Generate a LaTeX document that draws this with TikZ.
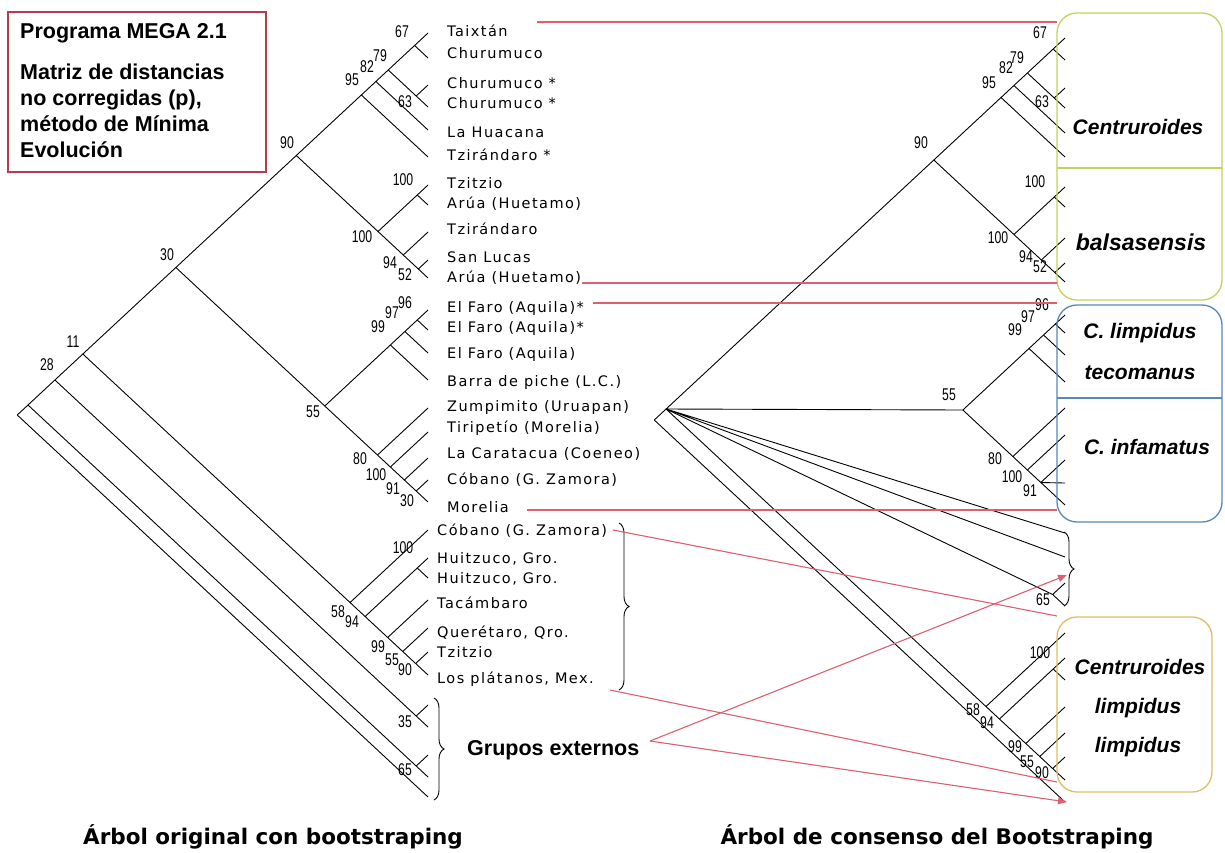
\documentclass[tikz,border=0pt]{standalone}
\usepackage{fontspec}
\setmainfont{Liberation Sans}
\newfontfamily\taxfont[LetterSpace=10]{DejaVu Sans}
\newfontfamily\bsfont[FakeStretch=0.72]{Liberation Sans}
\newfontfamily\ttlfont{DejaVu Sans}
\usetikzlibrary{arrows.meta,decorations.pathreplacing}
\definecolor{redl}{RGB}{222,96,112}
\definecolor{megared}{RGB}{185,60,78}
\definecolor{ygreen}{RGB}{196,210,92}
\definecolor{bluebox}{RGB}{88,136,186}
\definecolor{goldbox}{RGB}{226,188,104}
\newcommand\clade[4]{\coordinate (#1) at ({#2-(#4-#3)/1.86},{(#3+#4)/2});}
\newcommand\br[3]{\draw[tree] (#1) -- (#2) (#1) -- (#3);}
\begin{document}
\begin{tikzpicture}[x=1pt,y=-1pt,
  tree/.style={line width=0.9pt,black},
  tax/.style={anchor=base west,inner sep=0pt,font=\taxfont\fontsize{14.5}{16}\selectfont},
  bs/.style={inner sep=0pt,font=\bsfont\fontsize{17}{17}\selectfont},
  boldtxt/.style={inner sep=0pt,font=\bfseries\fontsize{21.5}{26}\selectfont},
  ttl/.style={anchor=base,inner sep=0pt,font=\ttlfont\bfseries\fontsize{21.5}{24}\selectfont},
  sp/.style={inner sep=0pt,font=\bfseries\itshape\fontsize{21}{24}\selectfont},
  redline/.style={draw=redl,line width=1.1pt},
  redarrow/.style={redline,-{Triangle[length=9pt,width=7pt]}},
  grpbox/.style={line width=1.3pt,rounded corners=20pt},
  bracebr/.style={decorate,decoration={brace,amplitude=10pt},line width=0.9pt}]
\fill[white] (0,0) rectangle (1225,852);
\useasboundingbox (0,0) rectangle (1225,852);

% ---------- program box ----------
\draw[megared,line width=1.5pt] (8,12) rectangle (266,172);
\node[boldtxt,anchor=west] (prog) at (20,33) {Programa MEGA 2.1};
\node[boldtxt,anchor=north west,align=left] (desc) at (20,64) {Matriz de distancias\\no corregidas (p),\\método de Mínima\\Evolución};

% ---------- left tree ----------
\foreach \i/\y in {1/33,2/58,3/85,4/107,5/130,6/157,7/185,8/205,9/232,10/260,11/278,12/310,13/330,14/353,15/380,16/408,17/432,18/458,19/480,20/502,21/530,22/558,23/578,24/600,25/628,26/652,27/675,28/705,29/727,30/755,31/777,32/797}
  \coordinate (L\i) at (428,\y);
\clade{n67}{428}{33}{58}
\clade{n63}{428}{85}{107}
\clade{n79}{428}{33}{107}
\clade{n82}{428}{33}{130}
\clade{n95}{428}{33}{157}
\clade{nA}{428}{185}{205}
\clade{n52}{428}{260}{278}
\clade{n94}{428}{232}{278}
\clade{nB}{428}{185}{278}
\clade{n90}{428}{33}{278}
\clade{n96}{428}{310}{330}
\clade{n97}{428}{310}{353}
\clade{n99}{428}{310}{380}
\clade{n30b}{428}{480}{502}
\clade{n91}{428}{458}{502}
\clade{nC}{428}{432}{502}
\clade{n80}{428}{408}{502}
\clade{n55}{428}{310}{502}
\clade{n30}{428}{33}{502}
\clade{nD}{428}{558}{578}
\clade{n90b}{428}{652}{675}
\clade{n55b}{428}{628}{675}
\clade{n99b}{428}{600}{675}
\clade{n94b}{428}{558}{675}
\clade{n58}{428}{530}{675}
\clade{n11}{428}{33}{675}
\clade{n35}{428}{705}{727}
\clade{n28}{428}{33}{727}
\clade{n65}{428}{755}{777}
\clade{nX}{428}{33}{777}
\clade{root}{428}{33}{797}
\br{n67}{L1}{L2}
\br{n63}{L3}{L4}
\br{n79}{n67}{n63}
\br{n82}{n79}{L5}
\br{n95}{n82}{L6}
\br{nA}{L7}{L8}
\br{n52}{L10}{L11}
\br{n94}{L9}{n52}
\br{nB}{nA}{n94}
\br{n90}{n95}{nB}
\br{n96}{L12}{L13}
\br{n97}{n96}{L14}
\br{n99}{n97}{L15}
\br{n30b}{L19}{L20}
\br{n91}{L18}{n30b}
\br{nC}{L17}{n91}
\br{n80}{L16}{nC}
\br{n55}{n99}{n80}
\br{n30}{n90}{n55}
\br{nD}{L22}{L23}
\br{n90b}{L26}{L27}
\br{n55b}{L25}{n90b}
\br{n99b}{L24}{n55b}
\br{n94b}{nD}{n99b}
\br{n58}{L21}{n94b}
\br{n11}{n30}{n58}
\br{n35}{L28}{L29}
\br{n28}{n11}{n35}
\br{n65}{L30}{L31}
\br{nX}{n28}{n65}
\br{root}{nX}{L32}

\foreach \n/\x/\y/\t in {bl1/402/32/67,bl2/380/56/79,bl3/367/67/82,bl4/352/80/95,bl5/405/102/63,bl6/287/143/90,bl7/403/180/100,bl8/362/237/100,bl9/390/263/94,bl10/405/275/52,bl11/167/255/30,bl12/405/303/96,bl13/392/313/97,bl14/378/327/99,bl15/313/412/55,bl16/360/459/80,bl17/376/475/100,bl18/393/489/91,bl19/407/501/30,bl20/73/342/11,bl21/47/365/28,bl22/403/548/100,bl23/338/612/58,bl24/352/622/94,bl25/378/647/99,bl26/392/660/55,bl27/405/670/90,bl28/405/722/35,bl29/405/770/65}
  \node[bs] (\n) at (\x,\y) {\t};

% taxon labels
\node[tax] (t1) at (447,36) {Taixtán};
\node[tax] (t2) at (447,58) {Churumuco};
\node[tax] (t3) at (447,88) {Churumuco *};
\node[tax] (t4) at (447,108) {Churumuco *};
\node[tax] (t5) at (447,137) {La Huacana};
\node[tax] (t6) at (447,160) {Tzirándaro *};
\node[tax] (t7) at (447,188) {Tzitzio};
\node[tax] (t8) at (447,208) {Arúa (Huetamo)};
\node[tax] (t9) at (447,234) {Tzirándaro};
\node[tax] (t10) at (447,262) {San Lucas};
\node[tax] (t11) at (447,282) {Arúa (Huetamo)};
\node[tax] (t12) at (447,312) {El Faro (Aquila)*};
\node[tax] (t13) at (447,332) {El Faro (Aquila)*};
\node[tax] (t14) at (447,358) {El Faro (Aquila)};
\node[tax] (t15) at (447,386) {Barra de piche (L.C.)};
\node[tax] (t16) at (447,411) {Zumpimito (Uruapan)};
\node[tax] (t17) at (447,432) {Tiripetío (Morelia)};
\node[tax] (t18) at (447,458) {La Caratacua (Coeneo)};
\node[tax] (t19) at (447,484) {Cóbano (G. Zamora)};
\node[tax] (t20) at (447,512) {Morelia};
\node[tax] (t21) at (437,535) {Cóbano (G. Zamora)};
\node[tax] (t22) at (437,563) {Huitzuco, Gro.};
\node[tax] (t23) at (437,583) {Huitzuco, Gro.};
\node[tax] (t24) at (437,608) {Tacámbaro};
\node[tax] (t25) at (437,637) {Querétaro, Qro.};
\node[tax] (t26) at (437,657) {Tzitzio};
\node[tax] (t27) at (437,683) {Los plátanos, Mex.};

% braces
\coordinate (bA1) at (619,523); \coordinate (bA2) at (619,690);
\draw[bracebr] (bA1) -- (bA2);
\coordinate (bB1) at (434,698); \coordinate (bB2) at (434,800);
\draw[bracebr] (bB1) -- (bB2);
\node[boldtxt,anchor=west] (grp) at (467,750) {Grupos externos};

% ---------- right tree ----------
\foreach \i/\y in {1/38,2/60,3/88,4/108,5/133,6/157,7/187,8/207,9/238,10/263,11/282,12/315,13/333,14/355,15/382,16/408,17/435,18/460,19/483,20/505,21/533,22/557,23/583,24/606,25/633,26/658,27/680,28/707,29/733,30/757,31/780,32/802}
  \coordinate (R\i) at (1065,\y);
\clade{rn67}{1065}{38}{60}
\clade{rn63}{1065}{88}{108}
\clade{rn79}{1065}{38}{108}
\clade{rn82}{1065}{38}{133}
\clade{rn95}{1065}{38}{157}
\clade{rnA}{1065}{187}{207}
\clade{rn52}{1065}{263}{282}
\clade{rn94}{1065}{238}{282}
\clade{rnB}{1065}{187}{282}
\clade{rn90}{1065}{38}{282}
\clade{rn96}{1065}{315}{333}
\clade{rn97}{1065}{315}{355}
\clade{rn99}{1065}{315}{382}
\clade{rn91}{1065}{460}{505}
\clade{rnC}{1065}{435}{505}
\clade{rn80}{1065}{408}{505}
\clade{rn55}{1065}{315}{505}
\clade{rn65}{1065}{583}{606}
\clade{rnD}{1065}{658}{680}
\clade{rn90b}{1065}{757}{780}
\clade{rn55b}{1065}{733}{780}
\clade{rn99b}{1065}{707}{780}
\clade{rn94b}{1065}{658}{780}
\clade{rn58}{1065}{633}{780}
\clade{poly}{1065}{38}{780}
\clade{rroot}{1065}{38}{802}
\br{rn67}{R1}{R2}
\br{rn63}{R3}{R4}
\br{rn79}{rn67}{rn63}
\br{rn82}{rn79}{R5}
\br{rn95}{rn82}{R6}
\br{rnA}{R7}{R8}
\br{rn52}{R10}{R11}
\br{rn94}{R9}{rn52}
\br{rnB}{rnA}{rn94}
\br{rn90}{rn95}{rnB}
\br{rn96}{R12}{R13}
\br{rn97}{rn96}{R14}
\br{rn99}{rn97}{R15}
\br{rn91}{R18}{R20}
\draw[tree] (rn91) -- (R19);
\br{rnC}{R17}{rn91}
\br{rn80}{R16}{rnC}
\br{rn55}{rn99}{rn80}
\br{rn65}{R23}{R24}
\br{rnD}{R26}{R27}
\br{rn90b}{R30}{R31}
\br{rn55b}{R29}{rn90b}
\br{rn99b}{R28}{rn55b}
\br{rn94b}{rnD}{rn99b}
\br{rn58}{R25}{rn94b}
\br{poly}{rn90}{rn55}
\br{poly}{R21}{R22}
\br{poly}{rn65}{rn58}
\br{rroot}{poly}{R32}

\foreach \n/\x/\y/\t in {br1/1040/33/67,br2/1017/58/79,br3/1006/68/82,br4/989/83/95,br5/1042/102/63,br6/921/143/90,br7/1035/182/100,br8/998/238/100,br9/1026/257/94,br10/1040/267/52,br11/1042/305/96,br12/1028/317/97,br13/1015/330/99,br14/949/395/55,br15/995/459/80,br16/1012/477/100,br17/1030/491/91,br18/1043/600/65,br19/1040/653/100,br20/973/710/58,br21/987/723/94,br22/1015/747/99,br23/1027/762/55,br24/1042/773/90}
  \node[bs] (\n) at (\x,\y) {\t};

% right bracket
\coordinate (bC1) at (1064,532); \coordinate (bC2) at (1064,606);
\draw[bracebr] (bC1) -- (bC2);

% ---------- group boxes ----------
\draw[ygreen,grpbox] (1057,13) rectangle (1222,300);
\draw[ygreen,line width=1.3pt] (1057,168) -- (1222,168);
\draw[bluebox,grpbox] (1057,305) rectangle (1222,522);
\draw[bluebox,line width=1.3pt] (1057,398) -- (1222,398);
\draw[goldbox,grpbox] (1057,617) rectangle (1212,792);

\node[sp] (g1) at (1138,127) {Centruroides};
\node[sp,font=\bfseries\itshape\fontsize{23}{26}\selectfont] (g2) at (1141,242) {balsasensis};
\node[sp] (g3) at (1140,333) {C. limpidus};
\node[sp] (g4) at (1140,373) {tecomanus};
\node[sp] (g5) at (1147,447) {C. infamatus};
\node[sp] (g6) at (1140,667) {Centruroides};
\node[sp] (g7) at (1138,708) {limpidus};
\node[sp] (g8) at (1138,747) {limpidus};

% ---------- red connectors ----------
\coordinate (sTai) at (537,22);  \coordinate (eTai) at (1057,22);
\coordinate (sAru) at (582,283); \coordinate (eAru) at (1057,283);
\coordinate (sFar) at (593,303); \coordinate (eFar) at (1057,303);
\coordinate (sMor) at (527,510); \coordinate (eMor) at (1057,510);
\coordinate (sCob) at (613,530); \coordinate (eCob) at (1057,616);
\coordinate (sPla) at (610,690); \coordinate (ePla) at (1057,782);
\coordinate (apex) at (650,741);
\coordinate (eG1) at (1067,575); \coordinate (eG2) at (1067,802);
\draw[redline] (sTai) -- (eTai);
\draw[redline] (sAru) -- (eAru);
\draw[redline] (sFar) -- (eFar);
\draw[redline] (sMor) -- (eMor);
\draw[redline] (sCob) -- (eCob);
\draw[redline] (sPla) -- (ePla);
\draw[redarrow] (apex) -- (eG1);
\draw[redarrow] (apex) -- (eG2);

% ---------- titles ----------
\node[ttl] (title1) at (273,844) {Árbol original con bootstraping};
\node[ttl] (title2) at (937,844) {Árbol de consenso del Bootstraping};
\end{tikzpicture}
\end{document}
